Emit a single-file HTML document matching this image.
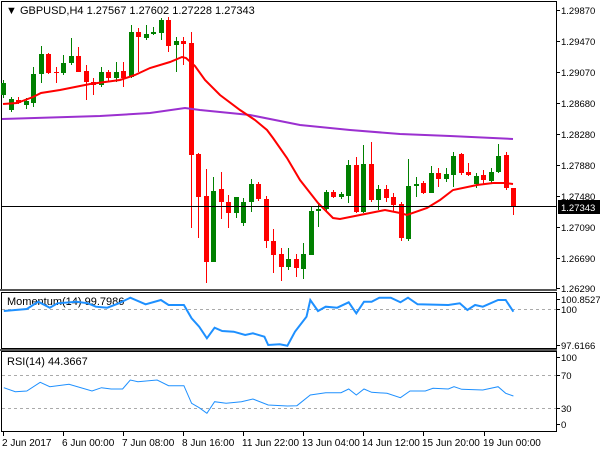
<!DOCTYPE html>
<html><head><meta charset="utf-8"><style>
html,body{margin:0;padding:0;background:#fff;}
svg{display:block;font-family:"Liberation Sans",sans-serif;}
</style></head><body>
<svg id="s" width="600" height="450" viewBox="0 0 600 450" xmlns="http://www.w3.org/2000/svg">
<rect width="600" height="450" fill="#fff"/>
<g fill="none" stroke="#000" stroke-width="1">
<rect x="1.5" y="1.5" width="555" height="288"/>
<rect x="1.5" y="292.5" width="555" height="56"/>
<rect x="1.5" y="351.5" width="555" height="80"/>
</g>
<g stroke="#000" shape-rendering="crispEdges">
<line x1="0" y1="290" x2="557" y2="290" stroke-width="2" stroke="#555"/>
<line x1="0" y1="350" x2="557" y2="350" stroke-width="2" stroke="#555"/>
</g>
<g stroke="#aaa" stroke-dasharray="3,3" shape-rendering="crispEdges">
<line x1="2" y1="309.5" x2="556" y2="309.5"/>
<line x1="2" y1="375.5" x2="556" y2="375.5"/>
<line x1="2" y1="408.5" x2="556" y2="408.5"/>
</g>
<g id="c"></g>
<polyline fill="none" stroke="#9b30d0" stroke-width="2" points="2,119 100,116 150,113 185,108 200,110 250,115 300,125 350,130 400,134 450,136 513,139"/>
<polyline fill="none" stroke="#ff0000" stroke-width="2" points="3,104 17,103 33,97 41,93 60,90 90,84 120,80 135,75 150,68 170,62 182,57 186,58 195,66 205,80 220,95 240,110 255,120 267,130 273,138 287,158 300,180 318,203 333,218 340,219 360,215 375,212 385,210 400,213 407,215 427,208 440,200 453,190 477,185 493,183 505,183 513,184"/>
<line x1="2" y1="206.5" x2="557" y2="206.5" stroke="#000" stroke-width="1"/>
<g font-size="11" fill="#000">
<text x="6" y="14">▼ GBPUSD,H4  1.27567 1.27602 1.27228 1.27343</text>
<text x="7" y="305">Momentum(14) 99.7986</text>
<text x="7" y="365">RSI(14) 44.3667</text>
</g>
<g font-size="9.5" fill="#000" id="ax"></g>
<rect x="558" y="200" width="42" height="14" fill="#000"/>
<text x="561" y="211" font-size="9.5" fill="#fff">1.27343</text>
<polyline id="mom" fill="none" stroke="#1e90ff" stroke-width="2"/>
<polyline id="rsi" fill="none" stroke="#1e90ff" stroke-width="1"/>
<g font-size="10" fill="#000" id="dt"></g>
</svg>
<script>
var NS="http://www.w3.org/2000/svg";
function el(p,n,a,t){var e=document.createElementNS(NS,n);for(var k in a)e.setAttribute(k,a[k]);if(t)e.textContent=t;p.appendChild(e);return e;}
var C=[[95,83,80,98],[110,99,97,112],[100,103,97,104],[105,101,98,109],[103,74,67,107],[74,54,46,83],[54,73,53,74],[72,73,67,83],[73,63,55,75],[63,56,38,65],[56,72,47,72],[71,82,65,100],[82,85,78,95],[85,72,67,87],[72,78,70,82],[78,72,62,82],[71,78,62,87],[77,32,25,78],[32,37,28,72],[38,34,25,40],[34,32,27,35],[33,20,18,40],[20,46,17,52],[45,41,37,72],[41,44,37,65],[43,155,32,228],[154,197,153,238],[196,262,169,283],[262,191,177,262],[189,202,172,219],[202,213,195,228],[213,197,197,218],[223,202,198,226],[202,184,179,212],[184,199,182,201],[199,241,196,248],[241,255,229,273],[254,267,248,281],[267,259,248,270],[259,268,254,277],[269,254,243,279],[255,211,207,255],[211,209,203,227],[209,192,190,211],[192,197,190,198],[197,194,192,199],[196,165,160,203],[165,212,157,213],[212,164,145,213],[164,200,142,202],[200,189,185,210],[189,198,185,202],[197,205,193,212],[204,238,202,241],[239,186,159,241],[186,184,177,197],[183,193,181,194],[193,173,166,193],[173,179,168,187],[179,174,168,182],[175,156,152,187],[154,173,153,175],[172,175,163,176],[184,176,173,188],[175,180,170,185],[181,172,168,183],[172,156,144,173],[155,188,152,190],[188,206,188,215]];
var g=document.getElementById('c');
C.forEach(function(d,i){var x=Math.round(3.2+i*7.5)+0.5;var up=d[1]<d[0];var col=up?'#008000':'#ff0000';
el(g,'line',{x1:x,x2:x,y1:d[2],y2:d[3],stroke:col,'stroke-width':1});
var t=Math.min(d[0],d[1]),b=Math.max(d[0],d[1]);el(g,'rect',{x:x-2.5,y:t,width:5,height:Math.max(1,b-t),fill:col});});
var ax=document.getElementById('ax');
[["1.29870",10],["1.29470",41],["1.29070",72],["1.28680",103],["1.28280",134],["1.27880",165],["1.27480",196],["1.27090",227],["1.26690",258],["1.26290",288],["100.8527",299],["100",309],["97.6166",345],["100",357],["70",375],["30",408],["0",424]].forEach(function(a){
el(ax,'line',{x1:557,x2:560,y1:a[1]+.5,y2:a[1]+.5,stroke:'#000'});el(ax,'text',{x:561,y:a[1]+4},a[0]);});
function pts(arr){return arr.map(function(p){return (p[0]/2.61).toFixed(1)+','+(p[1]/3+285).toFixed(1);}).join(' ');}
document.getElementById('mom').setAttribute('points',pts([[10,78],[40,75],[70,72],[100,50],[130,68],[150,55],[200,50],[230,55],[250,65],[280,68],[310,55],[340,38],[380,58],[420,45],[440,60],[480,60],[500,100],[520,125],[540,160],[560,128],[580,138],[610,140],[640,150],[660,145],[690,155],[700,180],[730,178],[750,182],[770,140],[800,95],[810,45],[830,78],[850,65],[880,68],[910,52],[930,85],[950,50],[970,50],[990,38],[1020,38],[1045,52],[1065,38],[1090,58],[1170,60],[1200,55],[1220,75],[1240,60],[1260,65],[1300,45],[1320,45],[1340,80]]));
document.getElementById('rsi').setAttribute('points',pts([[10,308],[40,320],[70,318],[105,292],[130,305],[180,298],[240,318],[265,308],[290,312],[320,312],[340,285],[360,290],[410,285],[440,302],[480,302],[500,355],[520,368],[540,385],[560,350],[590,355],[630,350],[660,342],[700,360],[750,363],[775,362],[810,330],[850,323],[890,323],[910,312],[930,330],[950,312],[970,322],[1010,325],[1045,338],[1070,318],[1110,318],[1130,310],[1170,312],[1185,305],[1205,313],[1260,315],[1300,305],[1320,325],[1340,333]]));
var dt=document.getElementById('dt');
[["2 Jun 2017",3],["6 Jun 00:00",63],["7 Jun 08:00",123],["8 Jun 16:00",183],["11 Jun 22:00",243],["13 Jun 04:00",303],["14 Jun 12:00",363],["15 Jun 20:00",423],["19 Jun 00:00",484]].forEach(function(a){
el(dt,'line',{x1:a[1]+.5,x2:a[1]+.5,y1:432,y2:436,stroke:'#000'});el(dt,'text',{x:a[1]-1,y:446},a[0]);});
</script>
</body></html>
